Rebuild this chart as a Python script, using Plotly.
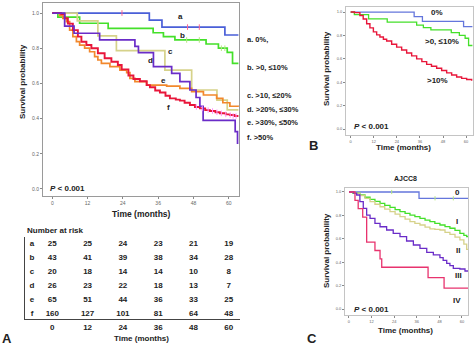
import plotly.graph_objects as go

W, H = 474, 345
FONT = "Liberation Sans, Arial, sans-serif"

months = [0, 12, 24, 36, 48, 60]
yticks = [0.0, 0.2, 0.4, 0.6, 0.8, 1.0]

# ---------------- Panel A: six groups ----------------
a_t = [0, 33, 37.3, 58.7, 63.3]
a_s = [1.0, 0.96, 0.92, 0.875, 0.875]
b_t = [0, 1.9, 9.3, 19, 34.3, 37.8, 41.7, 52.3, 56.5, 59.5, 61.3, 63.3]
b_s = [1.0, 0.977, 0.942, 0.913, 0.888, 0.866, 0.847, 0.824, 0.80, 0.776, 0.714, 0.714]
c_t = [0, 8.5, 15.5, 21.8, 38.3, 47.4, 56.0, 59.5, 63.3]
c_s = [1.0, 0.955, 0.87, 0.786, 0.676, 0.5625, 0.505, 0.45, 0.45]
d_t = [0, 4.2, 7.4, 16.1, 28.1, 29.3, 34.4, 40.6, 43.4, 46.8, 48.9, 50.2, 51.3, 62.2, 63.0, 63.3]
d_s = [1.0, 0.926, 0.885, 0.847, 0.81, 0.775, 0.695, 0.657, 0.61, 0.5625, 0.52, 0.47, 0.39, 0.326, 0.26, 0.26]
e_t = [0, 2.5, 3.6, 4.8, 5.9, 7.0, 8.2, 9.3, 11.0, 12.7, 14.4, 15.5, 16.7, 19.6, 23.0, 25.3, 26.4,
       28.1, 32.1, 38.9, 43.4, 47.4, 51.4, 55.9, 58.0, 60.4, 63.3]
e_s = [1.0, 0.985, 0.97, 0.951, 0.903, 0.866, 0.837, 0.818, 0.80, 0.78, 0.752, 0.733, 0.714, 0.695,
       0.676, 0.661, 0.629, 0.61, 0.59, 0.585, 0.572, 0.553, 0.534, 0.515, 0.49, 0.47, 0.468]
f_t = [0, 3.0, 4.2, 5.3, 7.0, 8.7, 9.9, 11.6, 13.3, 15.5, 17.8, 20.1, 22.3, 23.6, 25.9, 27.6, 29.8,
       32.1, 33.2, 35.0, 36.6, 38.5, 40.0, 42.0, 43.4, 45.0, 46.8, 48.5, 50.2, 52.0, 53.6, 55.5,
       57.0, 59.0, 60.4, 62.0, 63.3]
f_s = [1.0, 0.994, 0.97, 0.94, 0.903, 0.866, 0.837, 0.818, 0.80, 0.771, 0.743, 0.723, 0.705, 0.68,
       0.645, 0.625, 0.612, 0.59, 0.578, 0.56, 0.548, 0.53, 0.515, 0.508, 0.502, 0.49, 0.477, 0.466,
       0.458, 0.448, 0.443, 0.436, 0.43, 0.424, 0.42, 0.415, 0.415]

# censor marks (time, survival)
a_ct = [23.7, 46.0, 50.0]
a_cs = [1.0, 0.92, 0.92]
b_ct = [45.7, 50.0, 57.5, 58.7]
b_cs = [0.847, 0.847, 0.80, 0.80]
f_ct = [49.0, 51.0, 53.0, 54.5, 56.0, 57.5, 59.0, 60.5, 61.5, 62.5]
f_cs = [0.466, 0.458, 0.448, 0.443, 0.436, 0.43, 0.424, 0.42, 0.415, 0.415]

group_letters = ["a", "b", "c", "d", "e", "f"]
group_legend = ["a. 0%,", "b. >0, \u226410%", "c. >10, \u226420%", "d. >20%, \u226430%",
                "e. >30%, \u226450%", "f. >50%"]

# Number at risk
risk_a = [25, 25, 24, 23, 21, 19]
risk_b = [43, 41, 39, 38, 34, 28]
risk_c = [20, 18, 14, 14, 10, 8]
risk_d = [26, 23, 22, 18, 13, 7]
risk_e = [65, 51, 44, 36, 33, 25]
risk_f = [160, 127, 101, 81, 64, 48]

# ---------------- Panel B: three groups ----------------
# 0% and >0,<=10% groups are groups a and b above
g10_t = [0, 2.0, 4.8, 6.5, 8.3, 10.0, 11.8, 13.5, 15.2, 17.0, 18.7, 21.3, 23.9, 26.5, 29.1, 31.7,
         34.3, 37.0, 39.5, 42.0, 44.7, 47.3, 49.9, 52.5, 55.1, 57.7, 60.3, 62.9]
g10_s = [1.0, 0.995, 0.97, 0.94, 0.90, 0.865, 0.83, 0.805, 0.786, 0.768, 0.752, 0.725, 0.70, 0.675,
         0.65, 0.625, 0.60, 0.576, 0.553, 0.536, 0.52, 0.50, 0.48, 0.462, 0.445, 0.433, 0.423, 0.413]
b_labels = ["0%", ">0, \u226410%", ">10%"]

# ---------------- Panel C: AJCC8 ----------------
s0_t = [0, 37.2, 63.2]
s0_s = [1.0, 0.946, 0.946]
s0_ct = [22.7, 45.7, 55.4]
s0_cs = [1.0, 0.946, 0.946]
s1_t = [0, 2.0, 5.8, 8.5, 11.2, 13.8, 16.5, 19.0, 21.8, 24.5, 27.1, 29.8, 32.4, 35.0, 37.7, 40.4,
        43.0, 45.6, 48.3, 51.0, 53.6, 56.3, 58.9, 61.0, 62.5, 63.2]
s1_s = [1.0, 0.99, 0.974, 0.955, 0.937, 0.92, 0.903, 0.886, 0.869, 0.85, 0.832, 0.818, 0.803, 0.79,
        0.775, 0.76, 0.746, 0.732, 0.718, 0.704, 0.69, 0.672, 0.647, 0.63, 0.618, 0.618]
s2_t = [0, 3.0, 5.8, 8.5, 11.2, 13.8, 16.5, 19.0, 21.8, 24.5, 27.1, 29.8, 32.4, 35.0, 37.7, 40.4,
        43.0, 45.6, 48.3, 51.0, 53.6, 56.3, 58.9, 61.0, 62.5, 63.2]
s2_s = [1.0, 0.99, 0.97, 0.945, 0.917, 0.895, 0.874, 0.853, 0.832, 0.81, 0.789, 0.768, 0.746, 0.732,
        0.718, 0.70, 0.684, 0.68, 0.675, 0.655, 0.638, 0.615, 0.59, 0.555, 0.51, 0.505]
s3_t = [0, 2.5, 4.1, 5.8, 7.6, 9.4, 11.2, 13.8, 16.5, 20.0, 23.5, 27.1, 30.6, 34.2, 37.7, 41.3,
        44.8, 48.3, 50.0, 51.9, 53.6, 55.4, 58.9, 61.6, 63.2]
s3_s = [1.0, 0.99, 0.974, 0.917, 0.86, 0.803, 0.775, 0.732, 0.703, 0.675, 0.647, 0.618, 0.581,
        0.547, 0.519, 0.484, 0.462, 0.439, 0.415, 0.39, 0.37, 0.348, 0.342, 0.325, 0.32]
s4_t = [0, 3.2, 4.9, 7.3, 9.4, 13.8, 16.5, 17.4, 42.0, 50.5, 63.2]
s4_s = [1.0, 0.929, 0.857, 0.786, 0.571, 0.50, 0.429, 0.357, 0.268, 0.179, 0.179]
c_labels = ["0", "I", "II", "III", "IV"]

# colours
BLUE = "#4a5fd8"
GREEN = "#44e02a"
TAN = "#d6d28a"
PURPLE = "#6a2cc8"
ORANGE = "#f2882c"
RED = "#e8163a"
PINK = "#e8336e"
BLUE_L = "#6476dc"


def X(px):
    return px / W


def Y(py):
    return 1 - py / H


fig = go.Figure()


def km(t, s, color, xa, ya, width=1.5):
    fig.add_trace(go.Scatter(x=t, y=s, mode="lines", xaxis=xa, yaxis=ya,
                             line=dict(shape="hv", color=color, width=width),
                             hoverinfo="skip", showlegend=False))


def cens(t, s, color, xa, ya, size=4):
    fig.add_trace(go.Scatter(x=t, y=s, mode="markers", xaxis=xa, yaxis=ya,
                             marker=dict(symbol="line-ns-open", size=size,
                                         line=dict(color=color, width=1)),
                             hoverinfo="skip", showlegend=False))


# Panel A
km(a_t, a_s, BLUE, "x", "y", 1.7)
km(b_t, b_s, GREEN, "x", "y", 1.7)
km(c_t, c_s, TAN, "x", "y", 1.7)
km(e_t, e_s, ORANGE, "x", "y", 1.7)
km(f_t, f_s, RED, "x", "y", 1.9)
km(d_t, d_s, PURPLE, "x", "y", 1.7)
cens(a_ct, a_cs, BLUE, "x", "y")
cens(b_ct, b_cs, GREEN, "x", "y")
cens(f_ct, f_cs, RED, "x", "y")

# Panel B
km(a_t, a_s, BLUE_L, "x2", "y2", 1.3)
km(b_t, b_s, GREEN, "x2", "y2", 1.3)
km(g10_t, g10_s, RED, "x2", "y2", 1.4)

# Panel C
km(s0_t, s0_s, BLUE_L, "x3", "y3", 1.3)
km(s1_t, s1_s, GREEN, "x3", "y3", 1.3)
km(s2_t, s2_s, TAN, "x3", "y3", 1.3)
km(s3_t, s3_s, PURPLE, "x3", "y3", 1.3)
km(s4_t, s4_s, PINK, "x3", "y3", 1.3)
cens(s0_ct, s0_cs, BLUE_L, "x3", "y3", 3)

# Number-at-risk table (its own axes, aligned with panel A's time axis)
risk_rows = [risk_a, risk_b, risk_c, risk_d, risk_e, risk_f]
tx, ty, tt = [], [], []
for i, row in enumerate(risk_rows):
    tx.append(-6.9)
    ty.append(i)
    tt.append(group_letters[i])
    for j, m in enumerate(months):
        tx.append(m)
        ty.append(i)
        tt.append(str(row[j]))
fig.add_trace(go.Scatter(x=tx, y=ty, text=tt, mode="text", xaxis="x4", yaxis="y4",
                         textfont=dict(family=FONT, size=8, color="#222", weight="bold"),
                         hoverinfo="skip", showlegend=False, cliponaxis=False))

tick_common = dict(ticks="outside", ticklen=2, tickwidth=1, tickcolor="#888",
                   showgrid=False, zeroline=False, showline=True, mirror=True)

fig.update_layout(
    width=W, height=H, margin=dict(l=0, r=0, t=0, b=0),
    paper_bgcolor="white", plot_bgcolor="white",
    font=dict(family=FONT, color="#222"),
    xaxis=dict(domain=[X(43), X(239)], range=[-3.16, 63.5], tickvals=months, anchor="y",
               tickfont=dict(size=5, color="#666"), linecolor="#9a9a9a", **tick_common),
    yaxis=dict(domain=[Y(196), Y(3)], range=[-0.04, 1.057], tickvals=yticks, tickformat=".1f",
               anchor="x", tickfont=dict(size=5, color="#666"), linecolor="#9a9a9a", **tick_common),
    xaxis2=dict(domain=[X(346), X(473)], range=[-2.44, 63.6], tickvals=months, anchor="y2",
                tickfont=dict(size=4, color="#666"), linecolor="#c4c4c4", **tick_common),
    yaxis2=dict(domain=[Y(135), Y(7)], range=[-0.051, 1.043], tickvals=yticks, tickformat=".1f",
                anchor="x2", tickfont=dict(size=4, color="#666"), linecolor="#c4c4c4", **tick_common),
    xaxis3=dict(domain=[X(345), X(468)], range=[-2.1, 63.2], tickvals=months, anchor="y3",
                tickfont=dict(size=4, color="#666"), linecolor="#c4c4c4", **tick_common),
    yaxis3=dict(domain=[Y(315), Y(188)], range=[-0.051, 1.034], tickvals=yticks, tickformat=".1f",
                anchor="x3", tickfont=dict(size=4, color="#666"), linecolor="#c4c4c4", **tick_common),
    xaxis4=dict(domain=[X(25), X(240)], range=[-9.29, 63.84], tickvals=months, anchor="y4",
                ticks="", showline=True, linecolor="#444", linewidth=1, showgrid=False,
                zeroline=False, tickfont=dict(size=8, color="#222", weight="bold")),
    yaxis4=dict(domain=[Y(319), Y(237)], range=[5.357, -0.5], anchor="x4", showline=True,
                linecolor="#444", linewidth=1, showgrid=False, zeroline=False,
                showticklabels=False, ticks=""),
)

anns = []


def ann(text, x, y, size=8, xanchor="center", angle=0, color="#222", bold=True):
    anns.append(dict(text=("<b>%s</b>" % text) if bold else text, x=X(x), y=Y(y),
                     xref="paper", yref="paper", xanchor=xanchor, yanchor="middle",
                     showarrow=False, textangle=angle,
                     font=dict(family=FONT, size=size, color=color)))


# Panel A texts
ann("Survival probability", 22, 82, 8, angle=-90)
ann("Time (months)", 141, 214, 8.5)
ann("<i>P</i> < 0.001", 48, 189, 8, xanchor="left")
lab_pos = [(180, 16), (182, 35), (170, 51), (150, 60), (163, 81), (168, 108)]
for lt, (px, py) in zip(group_letters, lab_pos):
    ann(lt, px, py, 8)
leg_y = [40, 67, 96, 109, 123, 137]
for txt, py in zip(group_legend, leg_y):
    ann(txt, 245, py, 7.5, xanchor="left")
ann("Number at risk", 25, 230, 8, xanchor="left")
ann("Time (months)", 141, 338, 8)
ann("A", 7, 338, 13)

# Panel B texts
ann("Survival probability", 327, 69, 8, angle=-90)
ann("Time (months)", 403, 147, 8)
ann("<i>P</i> < 0.001", 352, 127, 8, xanchor="left")
for txt, (px, py) in zip(b_labels, [(437, 13), (442, 41), (437, 80)]):
    ann(txt, px, py, 8)
ann("B", 313, 146, 13)

# Panel C texts
ann("AJCC8", 405, 178, 7)
ann("Survival probability", 327, 251, 8, angle=-90)
ann("Time (months)", 405, 330, 8)
ann("<i>P</i> < 0.001", 352, 309, 8, xanchor="left")
for txt, (px, py) in zip(c_labels, [(457, 192), (457, 222), (458, 250), (458, 275), (457, 300)]):
    ann(txt, px, py, 8)
ann("C", 312, 338, 13)

fig.update_layout(annotations=anns)
fig.write_html("out.html")
